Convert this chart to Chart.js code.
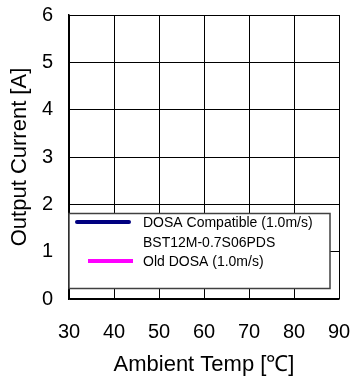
<!DOCTYPE html>
<html>
<head>
<meta charset="utf-8">
<script src="https://cdn.jsdelivr.net/npm/chart.js@4"></script>
<style>
  html, body { margin: 0; padding: 0; background: #fff; }
  #wrap { width: 352px; height: 379px; }
</style>
</head>
<body>
<div id="wrap"><canvas id="chart1" width="352" height="379"></canvas></div>
<script>
// axis ranges and tick labels
const xTicks = [30, 40, 50, 60, 70, 80, 90];
const yTicks = [0, 1, 2, 3, 4, 5, 6];

// legend entries (no curve is visible in the plot, series are empty)
const seriesLabels = ['DOSA Compatible (1.0m/s)', 'BST12M-0.7S06PDS', 'Old DOSA (1.0m/s)'];
const seriesColors = ['#000080', null, '#FF00FF'];
const dosaCompatible = [];
const modelLine = [];
const oldDosa = [];

const seriesData = [dosaCompatible, modelLine, oldDosa];

const tickFont = { family: 'Liberation Sans', size: 20 };
const titleFont = { family: 'Liberation Sans', size: 22 };
const legendFont = '14px "Liberation Sans"';

// legend box sits inside the plot, drawn by hand
const boxLegend = {
    id: 'boxLegend',
    afterDraw(chart) {
        const ctx = chart.ctx;
        const x0 = 69, y0 = 213.5, x1 = 330, y1 = 288.5;
        ctx.save();
        ctx.fillStyle = '#ffffff';
        ctx.fillRect(x0, y0, x1 - x0, y1 - y0);
        ctx.strokeStyle = '#404040';
        ctx.lineWidth = 1.5;
        ctx.strokeRect(x0, y0, x1 - x0, y1 - y0);

        const rows = [222, 242, 261];
        const lines = [[77, 129, 'round'], null, [88, 133, 'butt']];
        ctx.font = legendFont;
        ctx.textBaseline = 'middle';
        ctx.fillStyle = '#000';
        chart.data.datasets.forEach((ds, i) => {
            if (lines[i]) {
                ctx.strokeStyle = ds.borderColor;
                ctx.lineWidth = 4;
                ctx.lineCap = lines[i][2];
                ctx.beginPath();
                ctx.moveTo(lines[i][0], rows[i]);
                ctx.lineTo(lines[i][1], rows[i]);
                ctx.stroke();
            }
            ctx.fillText(ds.label, 143, rows[i] + 1);
        });
        ctx.restore();
    }
};

const ctx1 = document.getElementById('chart1').getContext('2d');
const myChart = new Chart(ctx1, {
    type: 'line',
    data: {
        datasets: seriesLabels.map((lbl, i) => ({
            label: lbl,
            data: seriesData[i],
            borderColor: seriesColors[i] || 'rgba(0,0,0,0)',
            borderWidth: 4,
            pointRadius: 0,
        })),
    },
    options: {
        responsive: false,
        animation: false,
        layout: { padding: { top: 15, right: 13, left: 0, bottom: 0 } },
        plugins: {
            legend: { display: false },
            tooltip: { enabled: false },
        },
        scales: {
            x: {
                type: 'linear',
                min: xTicks[0],
                max: xTicks[xTicks.length - 1],
                afterBuildTicks: (s) => { s.ticks = xTicks.map(v => ({ value: v })); },
                afterFit: (s) => { s.height = 80; s.paddingLeft = 0; s.paddingRight = 0; },
                grid: { color: '#000', lineWidth: 1, drawTicks: false },
                border: { color: '#000', width: 1.5 },
                ticks: { color: '#000', font: tickFont, padding: 21, maxRotation: 0 },
                title: { display: true, text: 'Ambient Temp [℃]', color: '#000', font: titleFont, padding: { top: 0, bottom: 1 } },
            },
            y: {
                min: yTicks[0],
                max: yTicks[yTicks.length - 1],
                afterBuildTicks: (s) => { s.ticks = yTicks.map(v => ({ value: v })); },
                afterFit: (s) => { s.width = 69; s.paddingTop = 0; s.paddingBottom = 0; },
                grid: { color: '#000', lineWidth: 1, drawTicks: false },
                border: { color: '#000', width: 1.5 },
                ticks: { color: '#000', font: tickFont, padding: 16 },
                title: { display: true, text: 'Output Current [A]', color: '#000', font: titleFont, padding: { top: 7, bottom: 0 } },
            },
        },
    },
    plugins: [boxLegend],
});
</script>
</body>
</html>
